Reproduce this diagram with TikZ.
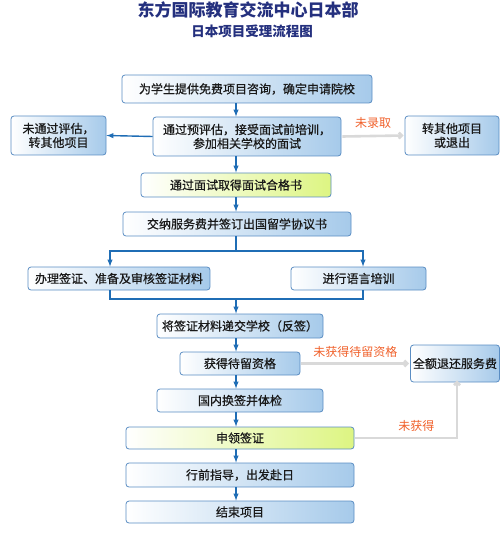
\documentclass[tikz,border=0pt]{standalone}
\usepackage{fontspec}
\setmainfont{Noto Sans CJK SC}
\newfontfamily\boxfont{Noto Sans CJK SC}[FakeBold=0.6]
\usepackage{tikz}
\usetikzlibrary{positioning, arrows, arrows.meta}

\definecolor{titleblue}{HTML}{24307E}
\definecolor{boxline}{HTML}{5A8DC3}
\definecolor{boxfill}{HTML}{A6CAEA}
\definecolor{okfill}{HTML}{DDF582}
\definecolor{flowblue}{HTML}{1F6DB5}
\definecolor{failgray}{HTML}{D9D9D9}
\definecolor{failtext}{HTML}{F0602A}

\tikzset{
  stepbox/.style={draw=boxline, line width=0.8pt, rounded corners=3pt,
    left color=white, right color=boxfill, text=black!90,
    font=\boxfont\fontsize{12}{14}\selectfont, align=center, inner sep=1pt},
  okbox/.style={stepbox, right color=okfill},
  flow/.style={->, flowblue, line width=1.4pt},
  flowline/.style={flowblue, line width=1.4pt},
  fail/.style={-{Straight Barb[length=3pt, width=6pt]}, failgray, line width=2.6pt},
  faillabel/.style={text=failtext, font=\fontsize{12}{14}\selectfont}
}

\begin{document}
\begin{tikzpicture}[x=1pt, y=-1pt, >=latex]
\useasboundingbox (0,0) rectangle (500,553);

% Title
\node[text=titleblue, font=\fontsize{17}{19}\selectfont\bfseries] (title) at (248,10) {东方国际教育交流中心日本部};
\node[text=titleblue, font=\fontsize{13.5}{15}\selectfont\bfseries] (subtitle) at (252,31) {日本项目受理流程图};

% Nodes
\coordinate (axis) at (236,0);
\node[stepbox, minimum width=250pt, minimum height=28pt] (consult) at (247,89) {为学生提供免费项目咨询，确定申请院校};
\node[stepbox, minimum width=188pt, minimum height=39pt] (assess) at (247,136.5) {通过预评估，接受面试前培训，\\参加相关学校的面试};
\node[stepbox, minimum width=95pt, minimum height=39pt] (other) at (58.5,135.5) {未通过评估，\\转其他项目};
\node[stepbox, minimum width=94pt, minimum height=39pt] (quit) at (452,135.5) {转其他项目\\或退出};
\node[okbox, minimum width=190pt, minimum height=24pt] (pass) at (236,185) {通过面试取得面试合格书};
\node[stepbox, minimum width=228pt, minimum height=24pt] (contract) at (237,224) {交纳服务费并签订出国留学协议书};
\node[stepbox, minimum width=182pt, minimum height=23pt] (visa) at (119,278.5) {办理签证、准备及审核签证材料};
\node[stepbox, minimum width=135pt, minimum height=23pt] (lang) at (358.5,278.5) {进行语言培训};
\node[stepbox, minimum width=166pt, minimum height=24pt] (submit) at (240,326) {将签证材料递交学校（反签）};
\node[stepbox, minimum width=120pt, minimum height=23pt] (status) at (240,363.5) {获得待留资格};
\node[stepbox, minimum width=89pt, minimum height=37pt] (refund) at (455,363.5) {全额退还服务费};
\node[stepbox, minimum width=166pt, minimum height=23pt] (exam) at (240,400.5) {国内换签并体检};
\node[okbox, minimum width=228pt, minimum height=22pt] (apply) at (240,438) {申领签证};
\node[stepbox, minimum width=228pt, minimum height=24pt] (depart) at (240,475) {行前指导，出发赴日};
\node[stepbox, minimum width=228pt, minimum height=22pt] (finish) at (240,512) {结束项目};

% Branch points
\coordinate (split) at (236,251);
\coordinate (merge) at (236,299);

% Arrows
\draw[flow] (consult.south -| axis) -- (assess.north -| axis);
\draw[flow] (assess.west) -- (other.east);
\draw[flow] (assess.south -| axis) -- (pass.north -| axis);
\draw[flow] (pass.south -| axis) -- (contract.north -| axis);
\draw[flowline] (contract.south -| axis) -- (split);
\draw[flow] (split) -| ([xshift=-9pt]visa.north);
\draw[flow] (split) -| ([xshift=4.5pt]lang.north);
\draw[flowline] ([xshift=-9pt]visa.south) |- (merge) -| ([xshift=4.5pt]lang.south);
\draw[flow] (merge) -- (submit.north -| axis);
\draw[flow] (submit.south -| axis) -- (status.north -| axis);
\draw[flow] (status.south -| axis) -- (exam.north -| axis);
\draw[flow] (exam.south -| axis) -- (apply.north -| axis);
\draw[flow] (apply.south -| axis) -- (depart.north -| axis);
\draw[flow] (depart.south -| axis) -- (finish.north -| axis);

% Failure paths
\draw[fail] ([xshift=1pt]assess.east) -- ([xshift=-1pt]quit.west) node[midway, above=3pt, faillabel] {未录取};
\draw[fail] ([xshift=1pt]status.east) -- ([xshift=-1pt]refund.west) node[midway, above=1pt, faillabel] {未获得待留资格};
\draw[fail] ([xshift=1pt]apply.east) -| ([xshift=2pt, yshift=2pt]refund.south) node[pos=0.3, above=2pt, faillabel] {未获得};

\end{tikzpicture}
\end{document}
